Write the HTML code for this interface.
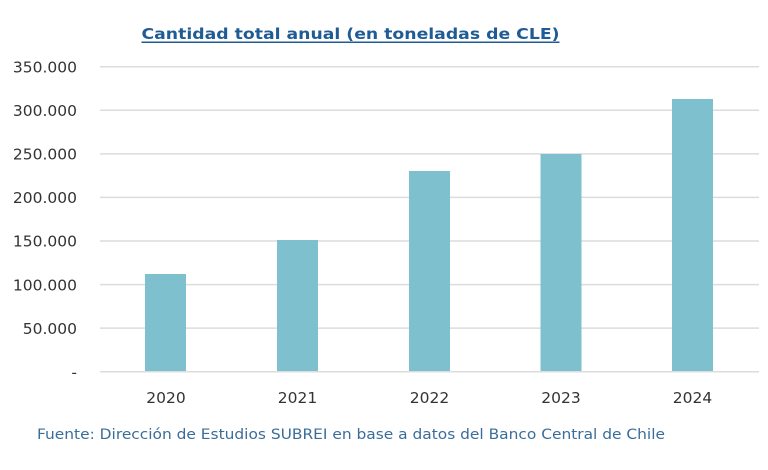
<!DOCTYPE html>
<html><head><meta charset="utf-8"><style>
html,body{margin:0;padding:0;background:#fff;}
svg{display:block;}
</style></head><body>
<svg width="768" height="470" viewBox="0 0 768 470" xmlns="http://www.w3.org/2000/svg">
<rect width="768" height="470" fill="#fff"/>
<text x="141.5" y="39" font-family="DejaVu Sans, Liberation Sans, sans-serif" font-weight="bold" font-size="15.5" fill="#1f5b94" textLength="418" lengthAdjust="spacingAndGlyphs">Cantidad total anual (en toneladas de CLE)</text>
<rect x="141.5" y="41.5" width="418" height="1.5" fill="#1f5b94"/>
<g stroke="#dcdcdc" stroke-width="1.5">
<line x1="100" y1="66.7" x2="759" y2="66.7"/>
<line x1="100" y1="110.3" x2="759" y2="110.3"/>
<line x1="100" y1="153.9" x2="759" y2="153.9"/>
<line x1="100" y1="197.4" x2="759" y2="197.4"/>
<line x1="100" y1="241" x2="759" y2="241"/>
<line x1="100" y1="284.6" x2="759" y2="284.6"/>
<line x1="100" y1="328.1" x2="759" y2="328.1"/>
<line x1="100" y1="371.7" x2="759" y2="371.7"/>
</g>
<g fill="#7ec0cd">
<rect x="145" y="274" width="41" height="97"/>
<rect x="277" y="240" width="41" height="131"/>
<rect x="409" y="171" width="41" height="200"/>
<rect x="540.5" y="154" width="41" height="217"/>
<rect x="672" y="99" width="41" height="272"/>
</g>
<g font-family="DejaVu Sans, Liberation Sans, sans-serif" font-size="15.5" fill="#333" text-anchor="end">
<text x="77" y="72.5">350.000</text>
<text x="77" y="116">300.000</text>
<text x="77" y="159.6">250.000</text>
<text x="77" y="203.2">200.000</text>
<text x="77" y="246.7">150.000</text>
<text x="77" y="290.3">100.000</text>
<text x="77" y="333.9">50.000</text>
<text x="77" y="377.4">-</text>
</g>
<g font-family="DejaVu Sans, Liberation Sans, sans-serif" font-size="15.5" fill="#333" text-anchor="middle">
<text x="166" y="403">2020</text>
<text x="297.5" y="403">2021</text>
<text x="429.5" y="403">2022</text>
<text x="561" y="403">2023</text>
<text x="692.5" y="403">2024</text>
</g>
<text x="37" y="439" font-family="DejaVu Sans, Liberation Sans, sans-serif" font-size="14" fill="#3a6d99" textLength="628" lengthAdjust="spacingAndGlyphs">Fuente: Dirección de Estudios SUBREI en base a datos del Banco Central de Chile</text>
</svg>
</body></html>
